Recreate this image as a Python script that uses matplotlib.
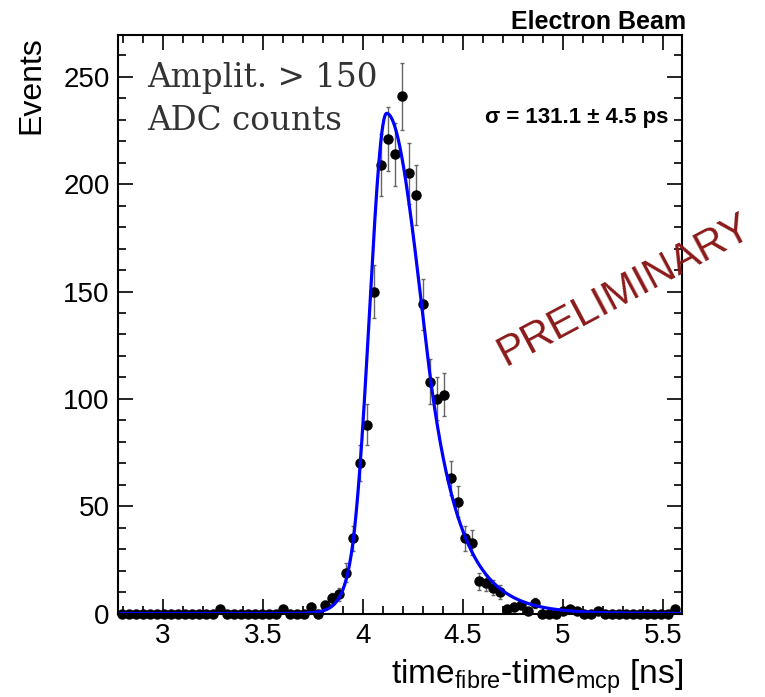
import numpy as np
import matplotlib
matplotlib.use("Agg")
import matplotlib.pyplot as plt
from matplotlib.ticker import MultipleLocator

# ---------------- data ----------------
bin_lo = 2.7775
bin_width = 0.035
counts = [
    0, 0, 0, 0, 0, 0, 0, 0, 0, 0,
    0, 0, 0, 0, 2, 0, 0, 0, 0, 0,
    0, 0, 0, 2, 0, 0, 0, 3, 0, 4,
    7, 9, 19, 35, 70, 88, 150, 209, 221, 214,
    241, 205, 195, 144, 108, 100, 102, 63, 52, 35,
    33, 15, 14, 12, 10, 2, 3, 4, 1, 5,
    0, 0, 0, 1, 2, 1, 0, 0, 1, 0,
    0, 0, 0, 0, 0, 0, 0, 0, 0, 2,
]
# fit function parameters (asymmetric Gaussian core with exponential tails)
fit_amp = 233.0
fit_peak = 4.118
fit_sigma_left = 0.085
fit_tail_left = 1.85
fit_sigma_right = 0.178
fit_tail_right = 1.15

x_ticks = [3, 3.5, 4, 4.5, 5, 5.5]
x_ticklabels = ["3", "3.5", "4", "4.5", "5", "5.5"]
y_ticks = [0, 50, 100, 150, 200, 250]
y_ticklabels = ["0", "50", "100", "150", "200", "250"]

counts = np.array(counts, dtype=float)
centers = bin_lo + bin_width * (np.arange(len(counts)) + 0.5)
errors = np.sqrt(counts)


def fit_func(x):
    t = x - fit_peak
    out = np.empty_like(x)
    left = t < 0
    z = np.where(left, -t / fit_sigma_left, t / fit_sigma_right)
    a = np.where(left, fit_tail_left, fit_tail_right)
    core = z < a
    out[core] = np.exp(-0.5 * z[core] ** 2)
    out[~core] = np.exp(0.5 * a[~core] ** 2 - a[~core] * z[~core])
    return fit_amp * out


# ---------------- figure ----------------
W, H = 765, 697
fig = plt.figure(figsize=(W / 100, H / 100), dpi=100)
ax = fig.add_axes([118 / W, 1 - 613.5 / H, (682 - 118) / W, (613.5 - 35) / H])

eb = ax.errorbar(centers, counts, yerr=errors, fmt="o", color="black", ms=6.5,
                 ecolor="#666666", elinewidth=1.0, capsize=1.6, capthick=1.0, zorder=2)
eb.lines[0].set_clip_on(False)
xf = np.linspace(2.775, 5.595, 1000)
ax.plot(xf, fit_func(xf), color="#0000ff", lw=2.3, zorder=3)

ax.set_xlim(2.775, 5.595)
ax.set_ylim(0, 269.5)
ax.set_xticks(x_ticks)
ax.set_xticklabels(x_ticklabels)
ax.set_yticks(y_ticks)
ax.set_yticklabels(y_ticklabels)
ax.xaxis.set_minor_locator(MultipleLocator(0.1))
ax.yaxis.set_minor_locator(MultipleLocator(10))
ax.tick_params(which="both", direction="in", top=True, right=True, width=1.2)
ax.tick_params(which="major", length=11, labelsize=20)
ax.tick_params(which="minor", length=5.5)
ax.tick_params(axis="x", pad=7)
ax.tick_params(axis="y", pad=6)
for lab in ax.get_xticklabels() + ax.get_yticklabels():
    lab.set_family("Liberation Sans")
for s in ax.spines.values():
    s.set_linewidth(1.5)
    s.set_zorder(4)

plt.rcParams["mathtext.fontset"] = "custom"
plt.rcParams["mathtext.rm"] = "Liberation Sans"
plt.rcParams["mathtext.it"] = "Liberation Sans"


def fx(px):
    return px / W


def fy(py):
    return 1 - py / H


fig.text(fx(31), fy(85), "Events", rotation=90, ha="center", va="center",
         fontsize=23, family="Liberation Sans")
fig.text(fx(683), fy(684), r"time$_{\rm fibre}$-time$_{\rm mcp}$ [ns]", ha="right",
         va="baseline", fontsize=24, family="Liberation Sans")
fig.text(fx(686), fy(29), "Electron Beam", ha="right", va="baseline",
         fontsize=18, fontweight="bold", family="Liberation Sans")
fig.text(fx(668), fy(123), "σ = 131.1 ± 4.5 ps", ha="right", va="baseline",
         fontsize=16, fontweight="bold", family="Liberation Sans")
fig.text(fx(147), fy(87), "Amplit. > 150", ha="left", va="baseline",
         fontsize=23.5, family="DejaVu Serif", color="#333333")
fig.text(fx(147), fy(130), "ADC counts", ha="left", va="baseline",
         fontsize=23.5, family="DejaVu Serif", color="#333333")
fig.text(fx(625), fy(290), "PRELIMINARY", rotation=28, ha="center", va="center",
         fontsize=30, family="Liberation Sans", color="#8b1a1a")

fig.savefig("out.png", dpi=100)
